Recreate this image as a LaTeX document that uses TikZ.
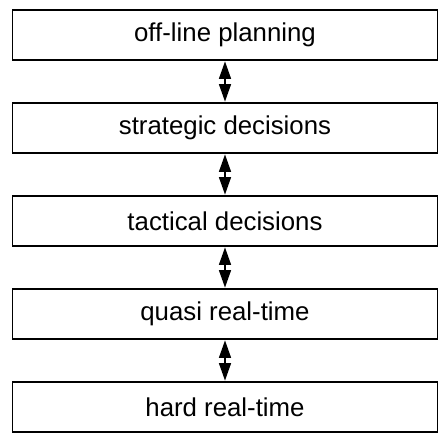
\documentclass[tikz,border=0pt]{standalone}
\usepackage{fontspec}
\setmainfont{Liberation Sans}
\usetikzlibrary{arrows.meta}
\begin{document}
\begin{tikzpicture}[x=1pt,y=-1pt,
  layer/.style={draw,line width=1.4pt,minimum width=425pt,minimum height=50pt,inner sep=0pt,font=\fontsize{25.8}{28}\selectfont},
  link/.style={line width=1.4pt,{Triangle[length=17.5pt,width=12pt]}-{Triangle[length=17.5pt,width=12pt]},shorten >=0.7pt,shorten <=0.7pt}]
\useasboundingbox (0,0) rectangle (448,438);
\node[layer] (a) at (225,35) {off-line planning};
\node[layer] (b) at (225,128) {strategic decisions};
\node[layer] (c) at (225,221) {tactical decisions};
\node[layer] (d) at (225,314) {quasi real-time};
\node[layer] (e) at (225,407) {hard real-time};
\draw[link] (a.south) -- (b.north);
\draw[link] (b.south) -- (c.north);
\draw[link] (c.south) -- (d.north);
\draw[link] (d.south) -- (e.north);
\end{tikzpicture}
\end{document}
